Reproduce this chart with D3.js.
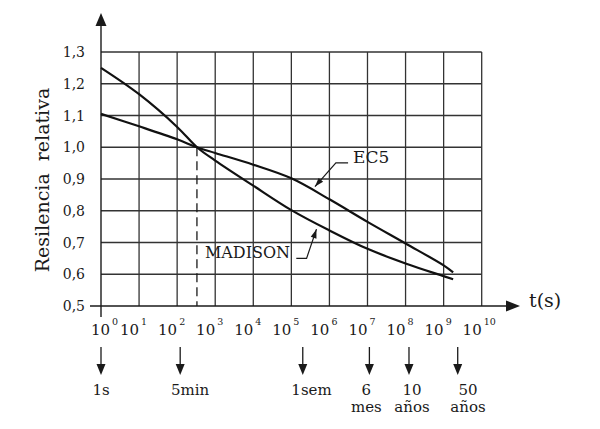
<!DOCTYPE html>
<html><head><meta charset="utf-8">
<script src="https://cdn.jsdelivr.net/npm/d3@7"></script>
<style>
body{margin:0;background:#fff;}
svg{display:block;font-family:"DejaVu Serif",serif;}
</style></head>
<body><svg id="c" width="600" height="429"></svg>
<script>
// ---- data ----
const yTicks = [0.5,0.6,0.7,0.8,0.9,1.0,1.1,1.2,1.3];
const yTickLabels = ["0,5","0,6","0,7","0,8","0,9","1,0","1,1","1,2","1,3"];
const xExponents = [0,1,2,3,4,5,6,7,8,9,10];
const madisonExp = [0,1,2,2.52,3,4,5,6,7,8,9,9.25];
const madisonVal = [1.25,1.167,1.064,1.0,0.958,0.879,0.802,0.738,0.68,0.634,0.594,0.584];
const ec5Exp = [0,1,2,2.52,3,4,5,6,7,8,9,9.25];
const ec5Val = [1.105,1.066,1.025,1.0,0.982,0.945,0.902,0.836,0.765,0.697,0.628,0.606];
const crossExp = 2.52;
const timeArrowExp = [0,2.08,5.3,7.05,8.09,9.37];
const timeLabelExp = [0,2.34,5.53,6.97,8.17,9.64];
const timeLabels = [["1s"],["5min"],["1sem"],["6","mes"],["10","años"],["50","años"]];

// ---- scales ----
const svg = d3.select("#c");
const x = d3.scaleLog().domain([1,1e10]).range([101,481.7]);
const xe = e => x(Math.pow(10,e));
const y = d3.scaleLinear().domain([0.5,1.3]).range([306,52]);
const ink = "#1a1a1a";

// grid
const g = svg.append("g");
g.selectAll("line.h").data(yTicks.slice(1)).join("line")
  .attr("x1",xe(0)).attr("x2",xe(10)).attr("y1",d=>y(d)).attr("y2",d=>y(d))
  .attr("stroke","#333").attr("stroke-width",1.3);
g.selectAll("line.v").data(xExponents.slice(1)).join("line")
  .attr("x1",d=>xe(d)).attr("x2",d=>xe(d)).attr("y1",y(0.5)).attr("y2",y(1.3))
  .attr("stroke","#333").attr("stroke-width",1.3);

// axes
svg.append("line").attr("x1",xe(0)).attr("x2",xe(0)).attr("y1",22).attr("y2",y(0.5)+11)
  .attr("stroke",ink).attr("stroke-width",1.4);
svg.append("path").attr("d",`M${xe(0)},13 L${xe(0)-5.5},26 L${xe(0)+5.5},26 Z`).attr("fill",ink);
svg.append("line").attr("x1",90).attr("x2",512).attr("y1",y(0.5)).attr("y2",y(0.5))
  .attr("stroke",ink).attr("stroke-width",1.4);
svg.append("path").attr("d",`M520,${y(0.5)} L506,${y(0.5)-5.5} L506,${y(0.5)+5.5} Z`).attr("fill",ink);

// dashed line
svg.append("line").attr("x1",xe(crossExp)).attr("x2",xe(crossExp))
  .attr("y1",y(1.0)).attr("y2",y(0.5)).attr("stroke",ink).attr("stroke-width",1.3)
  .attr("stroke-dasharray","9,5");

// y tick labels
svg.selectAll("text.yt").data(yTicks).join("text")
  .attr("x",85).attr("y",d=>y(d)+5).attr("text-anchor","end")
  .attr("font-size",14).attr("fill",ink).text((d,i)=>yTickLabels[i]);

// x tick labels
const xt = svg.selectAll("text.xt").data(xExponents).join("text")
  .attr("x",d=>xe(d)).attr("y",335).attr("font-size",15).attr("fill",ink)
  .attr("text-anchor","start");
xt.each(function(d){
  const t = d3.select(this);
  t.append("tspan").text("10");
  t.append("tspan").attr("font-size",9.5).attr("dx",2).attr("dy",-10).text(d);
});
xt.each(function(d){
  const t = d3.select(this);
  const w = t.select("tspan").node().getComputedTextLength();
  t.attr("x", xe(d)+(d===0?9:0)-w);
});

// curves
const line = d3.line().curve(d3.curveCatmullRom.alpha(0.5));
svg.append("path").attr("d",line(madisonExp.map((e,i)=>[xe(e),y(madisonVal[i])])))
  .attr("fill","none").attr("stroke","#111").attr("stroke-width",2.2);
svg.append("path").attr("d",line(ec5Exp.map((e,i)=>[xe(e),y(ec5Val[i])])))
  .attr("fill","none").attr("stroke","#111").attr("stroke-width",2.2);

// annotations
function leader(pts){
  svg.append("path").attr("d",d3.line()(pts)).attr("fill","none").attr("stroke",ink).attr("stroke-width",1.2);
  const [a,b] = [pts[pts.length-2],pts[pts.length-1]];
  const ang = Math.atan2(b[1]-a[1],b[0]-a[0]);
  const L=9,W=3;
  const bx=b[0]-L*Math.cos(ang), by=b[1]-L*Math.sin(ang);
  svg.append("path").attr("d",`M${b[0]},${b[1]} L${bx-W*Math.sin(ang)},${by+W*Math.cos(ang)} L${bx+W*Math.sin(ang)},${by-W*Math.cos(ang)} Z`).attr("fill",ink);
}
leader([[xe(6.49),y(0.951)],[xe(6.17),y(0.951)],[xe(5.62),y(0.876)]]);
leader([[xe(5.13),y(0.65)],[xe(5.40),y(0.65)],[xe(5.66),y(0.742)]]);
svg.append("text").attr("x",xe(6.62)).attr("y",y(0.951)).attr("font-size",17).attr("fill",ink).text("EC5");
svg.append("text").attr("x",xe(2.73)).attr("y",y(0.65)).attr("font-size",16).attr("fill",ink).text("MADISON");

// axis titles
svg.append("text").attr("transform","translate(49,180) rotate(-90)").attr("text-anchor","middle")
  .attr("font-size",19).attr("word-spacing",6).attr("fill",ink).text("Resilencia relativa");
svg.append("text").attr("x",529).attr("y",307).attr("font-size",19).attr("fill",ink).text("t(s)");

// time arrows
timeArrowExp.forEach((e,i)=>{
  const cx = xe(e);
  svg.append("line").attr("x1",cx).attr("x2",cx).attr("y1",347).attr("y2",366).attr("stroke",ink).attr("stroke-width",1.3);
  svg.append("path").attr("d",`M${cx},375 L${cx-4.5},364 L${cx+4.5},364 Z`).attr("fill",ink);
  const lx = xe(timeLabelExp[i]);
  timeLabels[i].forEach((s,j)=>{
    svg.append("text").attr("x",lx).attr("y",395+j*16.5).attr("text-anchor","middle")
      .attr("font-size",15).attr("fill",ink).text(s);
  });
});
</script></body></html>
